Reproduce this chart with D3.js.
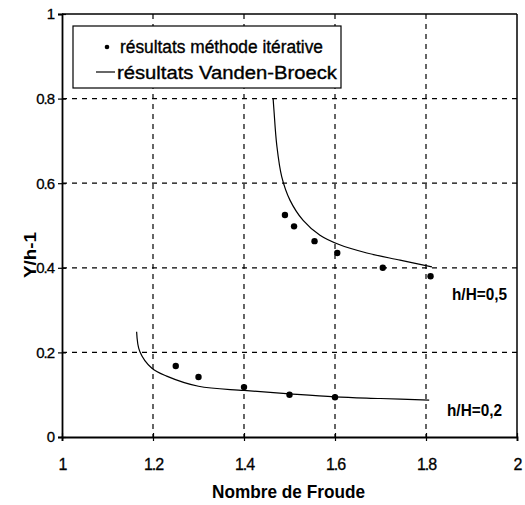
<!DOCTYPE html>
<html><head><meta charset="utf-8">
<script src="https://cdn.jsdelivr.net/npm/d3@7"></script>
<style>body{margin:0;background:#fff}svg{display:block}text{font-family:"Liberation Sans",Arial,sans-serif;fill:#000}</style>
</head><body><svg id="c" width="525" height="505"></svg>
<script>
const xTicks = [1, 1.2, 1.4, 1.6, 1.8, 2];
const yTicks = [0, 0.2, 0.4, 0.6, 0.8, 1];
const iterUpperX = [1.49, 1.51, 1.555, 1.605, 1.705, 1.81];
const iterUpperY = [0.525, 0.498, 0.463, 0.435, 0.40, 0.38];
const iterLowerX = [1.25, 1.30, 1.40, 1.50, 1.60];
const iterLowerY = [0.168, 0.142, 0.118, 0.10, 0.094];
const vbUpperX = [1.464, 1.466, 1.472, 1.483, 1.501, 1.53, 1.567, 1.609, 1.67, 1.743, 1.813];
const vbUpperY = [0.80, 0.77, 0.69, 0.615, 0.56, 0.512, 0.477, 0.455, 0.435, 0.418, 0.402];
const vbLowerX = [1.164, 1.171, 1.197, 1.23, 1.30, 1.40, 1.50, 1.60, 1.70, 1.807];
const vbLowerY = [0.249, 0.202, 0.163, 0.144, 0.12, 0.11, 0.102, 0.095, 0.091, 0.087];
const curveLabels = ["h/H=0,5", "h/H=0,2"];
const curveLabelY = [0.325, 0.05];
const legendLabels = ["résultats méthode itérative", "résultats Vanden-Broeck"];

const svg = d3.select("#c");
const L = 62, R = 517, T = 14, B = 437;
const x = d3.scaleLinear().domain([1, 2]).range([L, R]);
const y = d3.scaleLinear().domain([0, 1]).range([B, T]);

// grid
const g = svg.append("g");
g.selectAll("line.gy").data(yTicks.filter(v => v > 0 && v < 1)).enter().append("line")
  .attr("x1", L).attr("x2", R).attr("y1", d => y(d)).attr("y2", d => y(d))
  .attr("stroke", "#000").attr("stroke-width", 1.2).attr("stroke-dasharray", "5,5");
g.selectAll("line.gx").data(xTicks.filter(v => v > 1 && v < 2)).enter().append("line")
  .attr("y1", T).attr("y2", B).attr("x1", d => x(d)).attr("x2", d => x(d))
  .attr("stroke", "#000").attr("stroke-width", 1.2).attr("stroke-dasharray", "5,5");

// frame
svg.append("line").attr("x1", L).attr("x2", R).attr("y1", T).attr("y2", T).attr("stroke", "#000").attr("stroke-width", 1.5);
svg.append("line").attr("x1", R).attr("x2", R).attr("y1", T).attr("y2", B).attr("stroke", "#000").attr("stroke-width", 1.5);

// axes
const xAxis = d3.axisBottom(x).tickValues(xTicks).tickSize(4).tickFormat(d3.format("~g"));
const yAxis = d3.axisLeft(y).tickValues(yTicks).tickSize(4).tickFormat(d3.format("~g"));
const gx = svg.append("g").attr("transform", `translate(0,${B})`).call(xAxis);
const gy = svg.append("g").attr("transform", `translate(${L},0)`).call(yAxis);
[gx, gy].forEach(a => {
  a.select(".domain").attr("stroke", "#000").attr("stroke-width", 1.8);
  a.selectAll(".tick line").attr("stroke", "#000").attr("stroke-width", 1.2);
  a.selectAll(".tick text").style("font-family", "Liberation Sans, Arial, sans-serif").attr("fill", "#000")
    .attr("stroke", "#000").attr("stroke-width", 0.3);
});
gx.selectAll(".tick line").attr("y1", -4);
gy.selectAll(".tick line").attr("x1", 4);
gx.selectAll(".tick text").style("font-size", "16px").style("letter-spacing", "-1px").attr("dy", null).attr("y", 33);
gy.selectAll(".tick text").style("font-size", "15px").style("letter-spacing", "-1px").attr("x", -8);

// curves
const lineY = d3.line().x(d => x(d[0])).y(d => y(d[1])).curve(d3.curveCatmullRom.alpha(0.5));
svg.append("path").datum(vbUpperX.map((v, i) => [v, vbUpperY[i]])).attr("d", lineY)
  .attr("fill", "none").attr("stroke", "#000").attr("stroke-width", 1.2);
svg.append("path").datum(vbLowerX.map((v, i) => [v, vbLowerY[i]])).attr("d", lineY)
  .attr("fill", "none").attr("stroke", "#000").attr("stroke-width", 1.2);

// points
const pts = iterUpperX.map((v, i) => [v, iterUpperY[i]]).concat(iterLowerX.map((v, i) => [v, iterLowerY[i]]));
svg.selectAll("circle.p").data(pts).enter().append("circle")
  .attr("cx", d => x(d[0])).attr("cy", d => y(d[1])).attr("r", 3.2).attr("fill", "#000");

// curve labels
svg.selectAll("text.cl").data(curveLabels).enter().append("text")
  .attr("x", (d, i) => i === 0 ? 452 : 447).attr("y", (d, i) => y(curveLabelY[i]))
  .attr("textLength", 55).attr("lengthAdjust", "spacingAndGlyphs")
  .style("font-size", "16px").style("font-weight", "bold")
  .text(d => d);

// axis titles
svg.append("text").attr("x", 212).attr("y", 498)
  .attr("textLength", 153).attr("lengthAdjust", "spacingAndGlyphs")
  .style("font-size", "18px").style("font-weight", "bold").text("Nombre de Froude");
svg.append("text").attr("transform", "translate(36,278) rotate(-90)")
  .attr("textLength", 46).attr("lengthAdjust", "spacingAndGlyphs")
  .style("font-size", "16px").style("font-weight", "bold").text("Y/h-1");

// legend
const lg = svg.append("g");
lg.append("rect").attr("x", 73).attr("y", 26).attr("width", 268).attr("height", 62)
  .attr("fill", "#fff").attr("stroke", "#000").attr("stroke-width", 1.2);
lg.append("circle").attr("cx", 107).attr("cy", 47).attr("r", 2.3).attr("fill", "#000");
lg.append("line").attr("x1", 96).attr("x2", 115).attr("y1", 72).attr("y2", 72).attr("stroke", "#000").attr("stroke-width", 1.2);
lg.selectAll("text").data(legendLabels).enter().append("text")
  .attr("x", (d, i) => i === 0 ? 120 : 117).attr("y", (d, i) => 53 + i * 26)
  .attr("textLength", (d, i) => i === 0 ? 203 : 220).attr("lengthAdjust", "spacingAndGlyphs")
  .attr("stroke", "#000").attr("stroke-width", 0.35)
  .style("font-size", "18px").text(d => d);
</script></body></html>
